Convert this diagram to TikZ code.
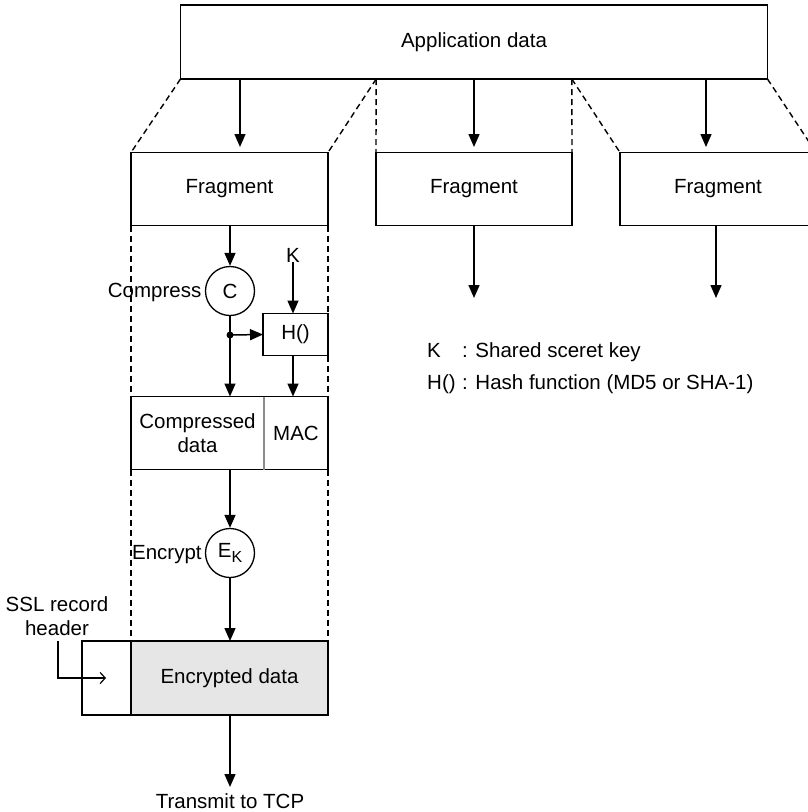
\documentclass[tikz,border=0pt]{standalone}
\usepackage{fontspec}
\setmainfont{Liberation Sans}
\usetikzlibrary{arrows.meta, positioning, calc}
\definecolor{mydark}{RGB}{0,0,0}
\definecolor{encgray}{RGB}{230,230,230}
\definecolor{divgray}{RGB}{140,140,140}
\tikzset{
  databox/.style={rectangle, draw=mydark, fill=white,
    minimum width=196pt, minimum height=73pt, align=center,
    inner sep=0pt, outer sep=0pt, line width=1.5pt},
  opcircle/.style={circle, draw=mydark, fill=white,
    minimum size=49pt, inner sep=0pt, line width=1.3pt},
  plainlabel/.style={inner sep=0pt, align=center},
  arrow/.style={-{Triangle[length=13pt,width=11pt]}, line width=1.5pt, color=mydark},
  dashline/.style={dash pattern=on 6pt off 4pt, line width=1.4pt, color=mydark},
  line/.style={line width=1.5pt, color=mydark}
}

\begin{document}
\begin{tikzpicture}[x=1pt, y=-1pt, every node/.style={font=\fontsize{20.5}{24}\selectfont}]
  \useasboundingbox (0,0) rectangle (808,812);
  \clip (0,0) rectangle (808,812);

  % Application data and its fragments
  \node[databox, minimum width=587pt, minimum height=74pt] (app) at (474,42) {Application data};
  \node[databox, minimum width=197pt] (frag1) at (229.5,189) {Fragment};
  \node[databox] (frag2) at (474,189) {Fragment};
  \node[databox] (frag3) at (718,189) {Fragment};

  \coordinate (cut1) at ($(app.south west)!1/3!(app.south east)$);
  \coordinate (cut2) at ($(app.south west)!2/3!(app.south east)$);
  \draw[dashline] (app.south west) -- (frag1.north west);
  \draw[dashline] (cut1) -- (frag1.north east);
  \draw[dashline] (cut1) -- (frag2.north west);
  \draw[dashline] (cut2) -- (frag2.north east);
  \draw[dashline] (cut2) -- (frag3.north west);
  \draw[dashline] (app.south east) -- (frag3.north east);

  \coordinate (in1) at (240,147);
  \coordinate (in2) at (474,147);
  \coordinate (in3) at (706,147);
  \draw[arrow] (app.south -| in1) -- (in1);
  \draw[arrow] (app.south -| in2) -- (in2);
  \draw[arrow] (app.south -| in3) -- (in3);

  \coordinate (out2) at (474,298);
  \coordinate (out3) at (716,298);
  \draw[arrow] (frag2.south -| out2) -- (out2);
  \draw[arrow] (frag3.south -| out3) -- (out3);

  % Compression and MAC
  \node[opcircle] (comp) at (230,291) {C};
  \node[left=0pt of comp, yshift=-1pt] (complbl) {Compress};
  \node[plainlabel] (key) at (293,255) {K};
  \node[databox, minimum width=65pt, minimum height=42pt] (hash) at (295.5,334.5) {H()};
  \coordinate (split) at (230,335);

  \node[databox, draw=none, minimum width=133pt] (cdata) at (197.5,433) {Compressed\\data};
  \node[databox, draw=none, minimum width=64pt, right=0pt of cdata] (mac) {MAC};
  \draw[line] (cdata.north west) rectangle (mac.south east);
  \draw[divgray, line width=1.2pt] (mac.north west) -- (mac.south west);

  \draw[arrow] (frag1.south -| comp) -- (comp);
  \draw[arrow] (comp) -- (cdata.north -| comp);
  \fill[mydark] (split) circle (3.5pt);
  \draw[arrow] (split) -- (hash.west);
  \draw[arrow] (key.south) -- (hash.north -| key);
  \draw[arrow] (hash.south -| key) -- (mac.north -| key);

  % Encryption
  \node[opcircle] (enc) at (230,553) {E\raisebox{-5pt}{\fontsize{16}{16}\selectfont K}};
  \node[left=0pt of enc, inner sep=3pt, yshift=-2pt] (enclbl) {Encrypt};
  \node[databox, fill=encgray, minimum width=197pt, minimum height=74pt] (encdata) at (229.5,678) {Encrypted data};
  \node[databox, minimum width=49pt, minimum height=74pt, left=0pt of encdata] (hdr) {};

  \draw[arrow] (cdata.south -| enc) -- (enc);
  \draw[arrow] (enc) -- (encdata.north -| enc);

  % Column edges
  \draw[dashline] (frag1.south west) -- (cdata.north west);
  \draw[dashline] (cdata.south west) -- (encdata.north west);
  \draw[dashline] (frag1.south east) -- (mac.north east);
  \draw[dashline] (mac.south east) -- (encdata.north east);

  % Record header
  \node[plainlabel] (ssllbl) at (57,616) {SSL record\\header};
  \coordinate (hdrfrom) at (58,641);
  \coordinate (hdrbend) at (58,678);
  \coordinate (hdrtip) at (106,678);
  \draw[line width=1.2pt, -{Straight Barb[length=5pt,width=11pt]}] (hdrfrom) -- (hdrbend) -- (hdrtip);

  % Output
  \coordinate (tcp) at (230,787);
  \draw[arrow] (encdata.south -| tcp) -- (tcp);
  \node[plainlabel] (tcplbl) at (230,801) {Transmit to TCP};

  % Legend
  \node[plainlabel, anchor=base west] (legk) at (427,357) {K};
  \node[plainlabel, anchor=base west] (legktxt) at (462,357) {: Shared sceret key};
  \node[plainlabel, anchor=base west] (legh) at (427,389) {H()};
  \node[plainlabel, anchor=base west] (leghtxt) at (462,389) {: Hash function (MD5 or SHA-1)};
\end{tikzpicture}
\end{document}
